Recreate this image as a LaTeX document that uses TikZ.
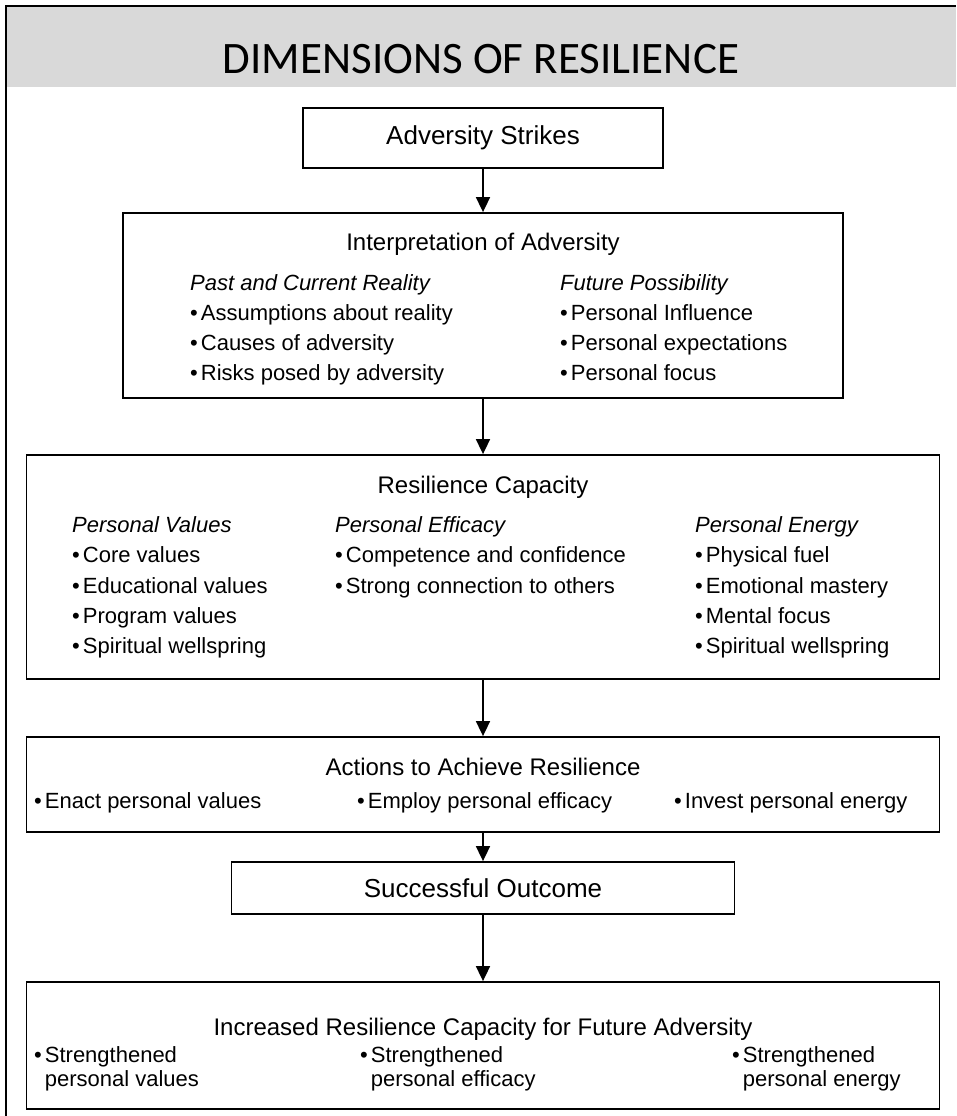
\documentclass[tikz,border=0pt]{standalone}
\usepackage{fontspec}
\setmainfont{Liberation Sans}
\newfontfamily\titlefont{Carlito}
\usetikzlibrary{arrows.meta}
\definecolor{band}{HTML}{D9D9D9}
\newcommand{\bul}{\textbullet\hspace{3pt}}
\begin{document}
\begin{tikzpicture}[x=1pt,y=-1pt,
  box/.style={draw=black, line width=1.8pt, inner sep=0pt, fill=white},
  single/.style={font=\fontsize{26}{30}\selectfont},
  ttl/.style={anchor=base, inner sep=0pt, font=\fontsize{24}{28}\selectfont},
  hd/.style={anchor=base west, inner sep=0pt, font=\fontsize{22}{26}\selectfont\itshape},
  bl/.style={anchor=base west, inner sep=0pt, font=\fontsize{22}{26}\selectfont},
  arr/.style={line width=1.7pt, -{Triangle[width=14pt,length=15pt]}}]
\useasboundingbox (0,0) rectangle (956,1116);
% header band and frame
\fill[band] (6,6) rectangle (956,87);
\draw[line width=2.6pt] (6,1116) -- (6,6) -- (956,6);
\node[anchor=base, inner sep=0pt, font=\titlefont\fontsize{45}{50}\selectfont] (title) at (481,74) {DIMENSIONS OF RESILIENCE};
% boxes
\node[box, single, minimum width=360pt, minimum height=60pt] (b1) at (483,138) {Adversity Strikes};
\node[box, minimum width=720pt, minimum height=185pt] (b2) at (483,305.5) {};
\node[box, minimum width=913pt, minimum height=224pt] (b3) at (483,567) {};
\node[box, minimum width=913pt, minimum height=95pt] (b4) at (483,784.5) {};
\node[box, single, minimum width=503pt, minimum height=52pt] (b5) at (483,888) {Successful Outcome};
\node[box, minimum width=913pt, minimum height=127pt] (b6) at (483,1045.5) {};
% arrows
\draw[arr] (b1.south) -- (b2.north);
\draw[arr] (b2.south) -- (b3.north);
\draw[arr] (b3.south) -- (b4.north);
\draw[arr] (b4.south) -- (b5.north);
\draw[arr] (b5.south) -- (b6.north);
% box 2
\node[ttl] (t2) at (483,250) {Interpretation of Adversity};
\node[hd] (h2a) at (190,290) {Past and Current Reality};
\node[bl] (p2a1) at (190,320) {\bul Assumptions about reality};
\node[bl] (p2a2) at (190,350) {\bul Causes of adversity};
\node[bl] (p2a3) at (190,380) {\bul Risks posed by adversity};
\node[hd] (h2b) at (560,290) {Future Possibility};
\node[bl] (p2b1) at (560,320) {\bul Personal Influence};
\node[bl] (p2b2) at (560,350) {\bul Personal expectations};
\node[bl] (p2b3) at (560,380) {\bul Personal focus};
% box 3
\node[ttl] (t3) at (483,493) {Resilience Capacity};
\node[hd] (h3a) at (72,532) {Personal Values};
\node[bl] (p3a1) at (72,562) {\bul Core values};
\node[bl] (p3a2) at (72,593) {\bul Educational values};
\node[bl] (p3a3) at (72,623) {\bul Program values};
\node[bl] (p3a4) at (72,653) {\bul Spiritual wellspring};
\node[hd] (h3b) at (335,532) {Personal Efficacy};
\node[bl] (p3b1) at (335,562) {\bul Competence and confidence};
\node[bl] (p3b2) at (335,593) {\bul Strong connection to others};
\node[hd] (h3c) at (695,532) {Personal Energy};
\node[bl] (p3c1) at (695,562) {\bul Physical fuel};
\node[bl] (p3c2) at (695,593) {\bul Emotional mastery};
\node[bl] (p3c3) at (695,623) {\bul Mental focus};
\node[bl] (p3c4) at (695,653) {\bul Spiritual wellspring};
% box 4
\node[ttl] (t4) at (483,775) {Actions to Achieve Resilience};
\node[bl] (p4a) at (34,808) {\bul Enact personal values};
\node[bl] (p4b) at (357,808) {\bul Employ personal efficacy};
\node[bl] (p4c) at (674,808) {\bul Invest personal energy};
% box 6
\node[ttl] (t6) at (483,1035) {Increased Resilience Capacity for Future Adversity};
\node[bl] (p6a1) at (34,1062) {\bul Strengthened};
\node[bl] (p6a2) at (34,1086) {\phantom{\bul}personal values};
\node[bl] (p6b1) at (360,1062) {\bul Strengthened};
\node[bl] (p6b2) at (360,1086) {\phantom{\bul}personal efficacy};
\node[bl] (p6c1) at (732,1062) {\bul Strengthened};
\node[bl] (p6c2) at (732,1086) {\phantom{\bul}personal energy};
\end{tikzpicture}
\end{document}
